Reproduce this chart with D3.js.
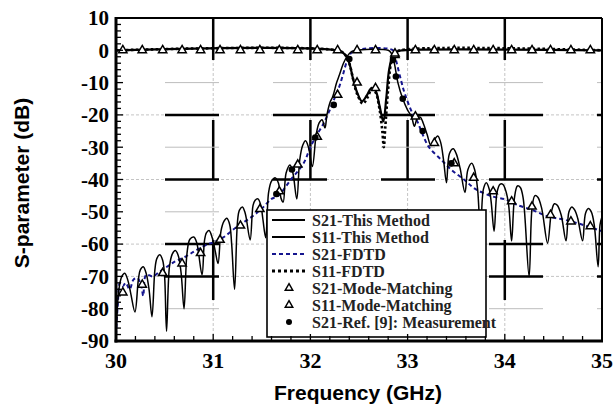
<!DOCTYPE html>
<html>
<head>
<meta charset="utf-8">
<script src="https://cdn.jsdelivr.net/npm/d3@7"></script>
<style>
body { margin: 0; background: #fff; }
</style>
</head>
<body>
<div id="chart"></div>
<script>
// values: [GHz, dB]
const s21Method = [
  [30.00,-88],[30.03,-74],[30.06,-70],[30.09,-69],[30.12,-71],[30.15,-75],[30.195,-81],
  [30.23,-71],[30.25,-68],[30.28,-67],[30.31,-69],[30.34,-74],[30.37,-82.5],
  [30.40,-68],[30.42,-64.5],[30.45,-63.3],[30.48,-65],[30.50,-70],[30.52,-87],
  [30.55,-67],[30.58,-63],[30.61,-62],[30.64,-63.5],[30.67,-69],[30.70,-80],
  [30.73,-63],[30.76,-58.5],[30.80,-57.8],[30.83,-59.5],[30.885,-69.5],
  [30.91,-59],[30.93,-56.5],[30.957,-55.8],[30.99,-58],[31.02,-62],[31.05,-66],
  [31.08,-56],[31.11,-53],[31.14,-52],[31.17,-54],[31.19,-60],[31.22,-74],
  [31.25,-53],[31.27,-49.5],[31.30,-48.5],[31.33,-50.5],[31.38,-58.7],
  [31.41,-48],[31.43,-46.5],[31.46,-46],[31.49,-48],[31.51,-52],[31.54,-58],
  [31.57,-44],[31.60,-40.5],[31.64,-39.5],[31.67,-41],[31.70,-46],
  [31.72,-47],[31.75,-38],[31.79,-35.5],[31.82,-38],[31.86,-46],
  [31.89,-34],[31.92,-29.5],[31.95,-28],[31.98,-30],[32.02,-36],
  [32.06,-26],[32.09,-22.5],[32.12,-21.5],[32.15,-24],[32.17,-20],[32.20,-16.3],
  [32.23,-14.3],[32.27,-10],[32.30,-7.5],[32.34,-4],[32.38,-1.8],[32.42,-0.5],[32.46,0],
  [32.80,0],[32.83,-0.8],[32.86,-3.5],[32.90,-10],[32.95,-15],[33.00,-18.5],[33.04,-20.5],
  [33.07,-23.5],[33.10,-21],[33.13,-20.7],[33.16,-22.5],[33.20,-26],[33.24,-29.5],
  [33.27,-28],[33.31,-26.5],[33.34,-28.5],[33.37,-34],[33.40,-41],
  [33.43,-32],[33.47,-30.5],[33.50,-32],[33.54,-36.5],[33.59,-44],
  [33.62,-37],[33.66,-35],[33.69,-37],[33.72,-43],[33.75,-56],
  [33.78,-43],[33.81,-41],[33.84,-43],[33.86,-47],[33.89,-56],
  [33.92,-44],[33.95,-41.5],[33.98,-41.5],[34.01,-43.5],[34.04,-48],[34.07,-59],
  [34.10,-45.5],[34.13,-42],[34.16,-42.5],[34.19,-46],[34.25,-70],
  [34.28,-49],[34.31,-45],[34.34,-45.5],[34.38,-49],[34.44,-59.7],
  [34.48,-50],[34.51,-47.5],[34.54,-48],[34.58,-51],[34.63,-59],
  [34.66,-50],[34.69,-48.5],[34.72,-49.5],[34.75,-52],[34.80,-59],
  [34.83,-50.5],[34.86,-49],[34.89,-50],[34.92,-54],[34.96,-67],
  [34.98,-54],[35.00,-51.5]
];

const s11Method = [
  [30.00,0],[32.30,-0.2],[32.36,-1.5],[32.40,-4],[32.44,-9],[32.48,-13],[32.53,-15.8],
  [32.58,-14],[32.63,-11.6],[32.67,-12.5],[32.71,-17],[32.75,-22],[32.78,-15],
  [32.81,-6],[32.85,-1.5],[32.90,-0.3],[32.95,0],[35.00,0]
];

const s21Fdtd = [
  [30.00,-88],[30.02,-78],[30.04,-72],[30.07,-73],[30.10,-72],[30.14,-74],[30.18,-71],
  [30.22,-70.5],[30.26,-73],[30.28,-76],[30.31,-69.5],[30.38,-70],[30.45,-68.5],
  [30.55,-66.5],[30.60,-65.5],[30.72,-63.8],[30.83,-61.8],[30.95,-60],[31.00,-59.5],
  [31.10,-58],[31.25,-54.5],[31.40,-51.5],[31.50,-49],[31.60,-46],[31.67,-45],
  [31.80,-40],[31.93,-35],[32.00,-30],[32.07,-26],[32.13,-23],[32.20,-18.4],
  [32.26,-14],[32.30,-11],[32.34,-7],[32.38,-3],[32.42,-0.8],[32.46,0],
  [32.85,0],[32.88,-3],[32.93,-9],[32.97,-13.3],[33.05,-19.5],[33.10,-22],
  [33.15,-25.7],[33.22,-30],[33.35,-34],[33.45,-37],[33.58,-40],[33.70,-43],
  [33.88,-45.3],[34.02,-46.3],[34.12,-47.8],[34.28,-49.4],[34.45,-51.5],
  [34.62,-52.5],[34.80,-54],[35.00,-56]
];

const s11Fdtd = [
  [30.00,0],[32.30,-0.2],[32.36,-1.5],[32.40,-4],[32.44,-9],[32.48,-13.5],[32.54,-16.5],
  [32.59,-14.5],[32.63,-12],[32.67,-13],[32.71,-18],[32.74,-25],[32.755,-30],
  [32.77,-24],[32.80,-12],[32.83,-4],[32.87,-1],[32.92,0],[35.00,0]
];

const s21Mode = [
  [30.07,-75],[30.27,-72.6],[30.48,-69],[30.68,-66],[30.87,-62.8],[31.07,-58.7],
  [31.28,-54.3],[31.48,-49.2],[31.68,-43.7],[31.87,-35.4],[32.07,-26.8],[32.28,-13.8],
  [32.48,0],[32.67,0],[32.87,-1.5],[33.08,-20.5],[33.275,-28.7],[33.48,-35],
  [33.68,-39.5],[33.88,-43.7],[34.07,-46.8],[34.28,-48.4],[34.47,-51],[34.68,-53],[34.88,-54.5]
];

const s11Mode = [
  [30.07,0],[30.27,0],[30.48,0],[30.68,0],[30.87,0],[31.07,0],[31.28,0],[31.48,0],
  [31.68,0],[31.87,0],[32.07,0],[32.28,0],[32.48,-10],[32.67,-11.7],[32.87,-1],
  [33.08,0],[33.275,0],[33.48,0],[33.68,0],[33.88,0],[34.07,0],[34.28,0],[34.47,0],
  [34.68,0],[34.88,0]
];

const s21Measured = [
  [31.65,-44.5],[31.81,-36.9],[32.05,-27],[32.24,-16.9],[32.40,-2.7],[32.85,-3],
  [32.88,-8.1],[32.95,-15],[33.155,-25],[33.45,-35]
];

const xTicks = [30, 31, 32, 33, 34, 35];
const yTicks = [10, 0, -10, -20, -30, -40, -50, -60, -70, -80, -90];
const gridFreq = [31, 32, 33, 34];
const gridDbBlack = [-20, -40, -60, -70];
const gridDbLight = [-10, -30, -50, -80];
const legendLabels = ["S21-This Method", "S11-This Method", "S21-FDTD", "S11-FDTD",
  "S21-Mode-Matching", "S11-Mode-Matching", "S21-Ref. [9]: Measurement"];

var W = 616, H = 406
var margin = {top: 18, right: 14, bottom: 65, left: 116}
var width = W - margin.left - margin.right
var height = H - margin.top - margin.bottom

const svg = d3.select("#chart").append("svg")
    .attr("width", W)
    .attr("height", H)

const x = d3.scaleLinear().domain([30, 35]).range([margin.left, margin.left + width])
const y = d3.scaleLinear().domain([-90, 10]).range([margin.top + height, margin.top])

const serif = "'Liberation Serif', 'Times New Roman', serif"
const sans = "'Liberation Sans', Arial, sans-serif"

// grid: light dashed lines with thick black dashes on top (as in the scan)
const grid = svg.append("g")
grid.selectAll(".vg").data(gridFreq).join("line")
    .attr("x1", d => x(d)).attr("x2", d => x(d))
    .attr("y1", y(10)).attr("y2", y(-90))
    .attr("stroke", "#c4c4c4").attr("stroke-dasharray", "3,2")
grid.selectAll(".vb").data(gridFreq).join("line")
    .attr("x1", d => x(d)).attr("x2", d => x(d))
    .attr("y1", y(10)).attr("y2", y(-90))
    .attr("stroke", "#000").attr("stroke-width", 2.5)
    .attr("stroke-dasharray", "60,60").attr("stroke-dashoffset", y(10))
grid.selectAll(".hg").data(gridDbBlack).join("line")
    .attr("x1", x(30)).attr("x2", x(35))
    .attr("y1", d => y(d)).attr("y2", d => y(d))
    .attr("stroke", "#c4c4c4").attr("stroke-dasharray", "3,2")
grid.selectAll(".hb").data(gridDbBlack).join("line")
    .attr("x1", x(30)).attr("x2", x(35))
    .attr("y1", d => y(d)).attr("y2", d => y(d))
    .attr("stroke", "#000").attr("stroke-width", 2.5)
    .attr("stroke-dasharray", "54,54").attr("stroke-dashoffset", 59)
grid.selectAll(".hl").data(gridDbLight).join("line")
    .attr("x1", x(30)).attr("x2", x(35))
    .attr("y1", d => y(d)).attr("y2", d => y(d))
    .attr("stroke", "#bdbdbd").attr("stroke-width", 1)
    .attr("stroke-dasharray", "54,54").attr("stroke-dashoffset", 59)

const smooth = d3.line().x(d => x(d[0])).y(d => y(d[1])).curve(d3.curveCatmullRom.alpha(0.5))

const plot = svg.append("g")
plot.append("path").datum(s21Fdtd)
    .attr("d", smooth).attr("fill", "none")
    .attr("stroke", "#15158f").attr("stroke-width", 2).attr("stroke-dasharray", "4,3")
plot.append("path").datum(s21Method)
    .attr("d", smooth).attr("fill", "none")
    .attr("stroke", "#000").attr("stroke-width", 1.5)
plot.append("path").datum(s11Fdtd)
    .attr("d", smooth).attr("fill", "none")
    .attr("stroke", "#000").attr("stroke-width", 2.6).attr("stroke-dasharray", "2.5,2.5")
plot.append("path").datum(s11Method)
    .attr("d", smooth).attr("fill", "none")
    .attr("stroke", "#000").attr("stroke-width", 2.2)

const tri = d3.symbol().type(d3.symbolTriangle).size(30)
plot.selectAll(".t21").data(s21Mode).join("path")
    .attr("d", tri).attr("transform", d => `translate(${x(d[0])},${y(d[1])})`)
    .attr("fill", "#fff").attr("stroke", "#000").attr("stroke-width", 1.5)
plot.selectAll(".t11").data(s11Mode).join("path")
    .attr("d", tri).attr("transform", d => `translate(${x(d[0])},${y(d[1])})`)
    .attr("fill", "#fff").attr("stroke", "#000").attr("stroke-width", 1.5)
plot.selectAll(".m21").data(s21Measured).join("circle")
    .attr("cx", d => x(d[0])).attr("cy", d => y(d[1])).attr("r", 3.3)
    .attr("fill", "#000")

// legend
const lg = svg.append("g").attr("transform", "translate(267,210)")
lg.append("rect").attr("width", 219).attr("height", 127)
    .attr("fill", "#fff").attr("stroke", "#000").attr("stroke-width", 1.6)
const rows = lg.selectAll("g").data(legendLabels).join("g")
    .attr("transform", (d, i) => `translate(0,${10 + i * 17})`)
rows.append("text")
    .attr("x", 45).attr("y", 5.5)
    .attr("font-family", serif).attr("font-weight", "bold").attr("font-size", 16)
    .attr("fill", "#222")
    .text(d => d)
const styles = [
  {stroke: "#000", w: 1.8, dash: null},
  {stroke: "#000", w: 1.8, dash: null},
  {stroke: "#15158f", w: 2, dash: "4,3"},
  {stroke: "#000", w: 2.8, dash: "3,3"}
]
rows.filter((d, i) => i < 4).append("line")
    .attr("x1", 5).attr("x2", 38)
    .attr("stroke", (d, i) => styles[i].stroke)
    .attr("stroke-width", (d, i) => styles[i].w)
    .attr("stroke-dasharray", (d, i) => styles[i].dash)
rows.filter((d, i) => i == 4 || i == 5).append("path")
    .attr("d", d3.symbol().type(d3.symbolTriangle).size(24))
    .attr("transform", "translate(22,0)")
    .attr("fill", "#fff").attr("stroke", "#000").attr("stroke-width", 1.5)
rows.filter((d, i) => i == 6).append("circle")
    .attr("cx", 22).attr("r", 3).attr("fill", "#000")

// frame and ticks
const ax = svg.append("g").attr("stroke", "#000")
ax.append("line").attr("x1", x(30)).attr("x2", x(35)).attr("y1", y(10)).attr("y2", y(10)).attr("stroke-width", 2)
ax.append("line").attr("x1", x(35)).attr("x2", x(35)).attr("y1", y(10)).attr("y2", y(-90)).attr("stroke-width", 2)
ax.append("line").attr("x1", x(30)).attr("x2", x(30)).attr("y1", y(10) - 1).attr("y2", y(-90) + 1.5).attr("stroke-width", 3)
ax.append("line").attr("x1", x(30) - 1.5).attr("x2", x(35) + 1).attr("y1", y(-90)).attr("y2", y(-90)).attr("stroke-width", 3)

ax.selectAll(".ty").data(d3.range(-90, 10.1, 2)).join("line")
    .attr("x1", x(30)).attr("x2", d => x(30) + (d % 10 == 0 ? 7 : 5))
    .attr("y1", d => y(d)).attr("y2", d => y(d)).attr("stroke-width", 1.3)
ax.selectAll(".tx").data(d3.range(30, 35.01, 0.2)).join("line")
    .attr("x1", d => x(d)).attr("x2", d => x(d))
    .attr("y1", y(-90)).attr("y2", d => y(-90) - (Math.abs(d - Math.round(d)) < 0.01 ? 7 : 5))
    .attr("stroke-width", 1.3)

svg.append("g").selectAll("text").data(yTicks).join("text")
    .attr("x", x(30) - 7).attr("y", d => y(d)).attr("dy", "0.35em")
    .attr("text-anchor", "end")
    .attr("font-family", serif).attr("font-weight", "bold").attr("font-size", 21)
    .text(d => d)
svg.append("g").selectAll("text").data(xTicks).join("text")
    .attr("x", d => x(d)).attr("y", y(-90) + 27)
    .attr("text-anchor", "middle")
    .attr("font-family", serif).attr("font-weight", "bold").attr("font-size", 22)
    .text(d => d)

svg.append("text")
    .attr("x", 358).attr("y", 400)
    .attr("text-anchor", "middle")
    .attr("font-family", sans).attr("font-weight", "bold").attr("font-size", 21)
    .text("Frequency (GHz)")
svg.append("text")
    .attr("transform", "translate(29,183) rotate(-90)")
    .attr("text-anchor", "middle")
    .attr("font-family", sans).attr("font-weight", "bold").attr("font-size", 21)
    .text("S-parameter (dB)")
</script>
</body>
</html>
